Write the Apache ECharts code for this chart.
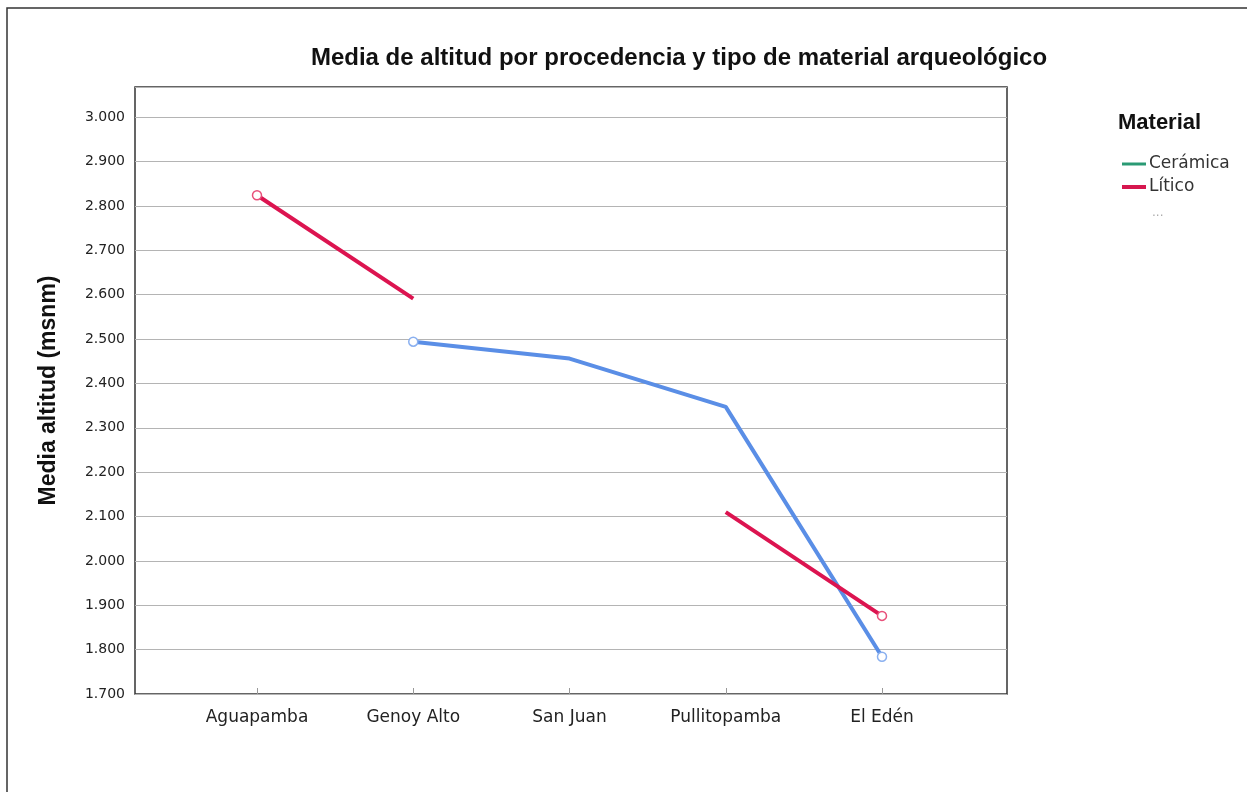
<!DOCTYPE html>
<html>
<head>
<meta charset="utf-8">
<script src="https://cdn.jsdelivr.net/npm/echarts@6/dist/echarts.min.js"></script>
<style>html,body{margin:0;padding:0;background:#fff;}#c{width:1247px;height:792px;}</style>
</head>
<body>
<div id="c"></div>
<script>
const categories = ['Aguapamba', 'Genoy Alto', 'San Juan', 'Pullitopamba', 'El Edén'];
const ceramica = [null, 2494, 2456, 2347, 1784];
const litico = [2824, 2591, null, 2110, 1876];
const yMin = 1700, yMax = 3068, yStep = 100;
const titleText = 'Media de altitud por procedencia y tipo de material arqueológico';
const yTitle = 'Media altitud (msnm)';
const legendTitle = 'Material';
const legendNames = ['Cerámica', 'Lítico'];

const fmt = v => {
  if (v > 3000) return '';
  const s = String(Math.round(v));
  return s.length > 3 ? s.slice(0, s.length - 3) + '.' + s.slice(-3) : s;
};
// markers only at segment ends drawn by SPSS
const markerSize = (keep) => (val, p) => keep.includes(p.dataIndex) ? 9 : 0;

const chart = echarts.init(document.getElementById('c'), null, {renderer: 'canvas'});
const font = 'DejaVu Sans';
chart.setOption({
  animation: false,
  backgroundColor: '#fff',
  title: {
    text: titleText, left: 674, top: 41, textAlign: 'center',
    textStyle: {fontFamily: 'Liberation Sans', fontWeight: 'bold', fontSize: 24, color: '#111'}
  },
  grid: [
    {left: 135, top: 87, width: 872, height: 607, show: true, borderColor: '#333', borderWidth: 1.5, backgroundColor: 'transparent'},
    {left: 257, top: 87, width: 625, height: 607}
  ],
  xAxis: [
    {gridIndex: 0, type: 'value', min: 0, max: 1, show: false},
    {gridIndex: 1, type: 'category', data: categories, boundaryGap: false,
     axisLine: {show: false},
     axisTick: {show: true, inside: true, length: 6, alignWithLabel: true, lineStyle: {color: '#999'}},
     axisLabel: {fontFamily: font, fontSize: 17, color: '#222', margin: 15},
     splitLine: {show: false}}
  ],
  yAxis: [
    {gridIndex: 0, type: 'value', min: yMin, max: yMax, interval: yStep,
     axisLine: {show: false}, axisTick: {show: false},
     axisLabel: {formatter: fmt, fontFamily: font, fontSize: 14, color: '#222', margin: 10, showMaxLabel: false},
     splitLine: {show: true, lineStyle: {color: '#b4b4b4', width: 1}},
     name: yTitle, nameLocation: 'middle', nameGap: 75, nameRotate: 90,
     nameTextStyle: {fontFamily: 'Liberation Sans', fontWeight: 'bold', fontSize: 23, color: '#111'}},
    {gridIndex: 1, type: 'value', min: yMin, max: yMax, show: false, splitLine: {show: false}}
  ],
  series: [
    {name: legendNames[0], type: 'line', xAxisIndex: 1, yAxisIndex: 1, data: ceramica,
     connectNulls: false, symbol: 'circle', showAllSymbol: true,
     symbolSize: markerSize([1, 4]),
     lineStyle: {color: '#5a8ee6', width: 4},
     itemStyle: {color: '#ffffff', borderColor: '#8ab0f0', borderWidth: 1.5}},
    {name: legendNames[1], type: 'line', xAxisIndex: 1, yAxisIndex: 1, data: litico,
     connectNulls: false, symbol: 'circle', showAllSymbol: true,
     symbolSize: markerSize([0, 4]),
     lineStyle: {color: '#dc1450', width: 4},
     itemStyle: {color: '#ffffff', borderColor: '#e8507a', borderWidth: 1.5}}
  ],
  graphic: [
    {type: 'rect', shape: {x: 7, y: 8, width: 1300, height: 800}, style: {fill: 'none', stroke: '#333', lineWidth: 1.5}, silent: true, z: -1},
    {type: 'text', left: 1118, top: 112, style: {text: legendTitle, font: 'bold 22px "Liberation Sans"', fill: '#111'}},
    {type: 'line', shape: {x1: 1122, y1: 164, x2: 1146, y2: 164}, style: {stroke: '#2a9a74', lineWidth: 3}},
    {type: 'text', left: 1149, top: 155, style: {text: legendNames[0], font: '17px "DejaVu Sans"', fill: '#333'}},
    {type: 'line', shape: {x1: 1122, y1: 187, x2: 1146, y2: 187}, style: {stroke: '#d6174f', lineWidth: 4}},
    {type: 'text', left: 1149, top: 178, style: {text: legendNames[1], font: '17px "DejaVu Sans"', fill: '#333'}},
    {type: 'text', left: 1152, top: 207, style: {text: '...', font: '12px "DejaVu Sans"', fill: '#aaa'}}
  ]
});
</script>
</body>
</html>
